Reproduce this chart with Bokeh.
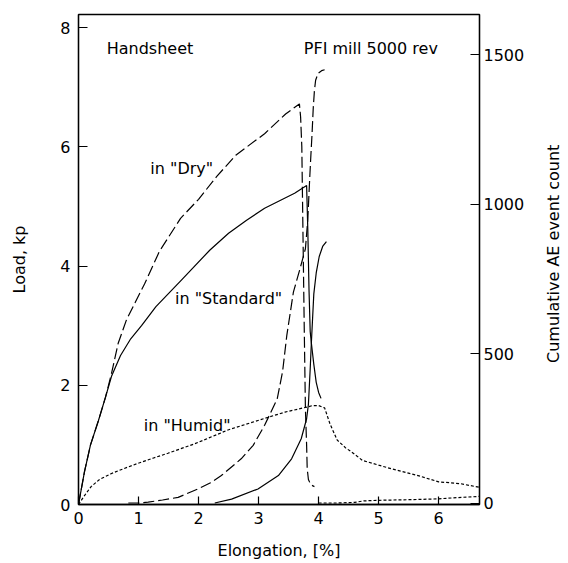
import math

from bokeh.plotting import figure
from bokeh.layouts import row
from bokeh.models import Range1d, LinearAxis, FixedTicker, Label
from bokeh.core.properties import value
from bokeh.embed import file_html
from bokeh.resources import INLINE

FONT = "DejaVu Sans"

# ---- tick values -------------------------------------------------------
elong_ticks = [0, 1, 2, 3, 4, 5, 6]
load_ticks = [0, 2, 4, 6, 8]
ae_ticks = [0, 500, 1000, 1500]

# ---- load curves (elongation %, load kp) -------------------------------
dry_load_x = [0, 0.1, 0.2, 0.33, 0.45, 0.55, 0.66, 0.8, 0.95, 1.1, 1.35, 1.7,
              2.0, 2.3, 2.62, 3.1, 3.45, 3.68, 3.70, 3.72, 3.74, 3.76, 3.78,
              3.80, 3.81, 3.83, 3.87, 3.93]
dry_load_y = [0, 0.55, 1.0, 1.4, 1.8, 2.2, 2.7, 3.1, 3.4, 3.7, 4.25, 4.8,
              5.12, 5.5, 5.86, 6.22, 6.55, 6.72, 6.5, 6.0, 4.5, 3.0, 1.6,
              1.0, 0.6, 0.42, 0.33, 0.3]

std_load_x = [0, 0.1, 0.2, 0.33, 0.45, 0.55, 0.7, 0.87, 1.05, 1.29, 1.71,
              2.19, 2.5, 2.8, 3.1, 3.4, 3.6, 3.8, 3.82, 3.84, 3.86, 3.88,
              3.92, 3.96, 4.0, 4.04]
std_load_y = [0, 0.55, 1.0, 1.4, 1.8, 2.15, 2.5, 2.78, 3.0, 3.32, 3.76,
              4.27, 4.55, 4.77, 4.97, 5.12, 5.22, 5.35, 4.6, 3.6, 2.9, 2.7,
              2.35, 2.05, 1.88, 1.78]

humid_load_x = [0, 0.1, 0.21, 0.35, 0.55, 0.75, 0.99, 1.25, 1.49, 1.94, 2.49,
                2.99, 3.44, 3.83, 3.9, 4.0, 4.1, 4.19, 4.31, 4.45, 4.55, 4.73,
                5.0, 5.21, 5.64, 6.0, 6.36, 6.67]
humid_load_y = [0, 0.15, 0.3, 0.42, 0.52, 0.6, 0.69, 0.78, 0.86, 1.02, 1.25,
                1.41, 1.55, 1.64, 1.66, 1.66, 1.62, 1.35, 1.08, 0.95, 0.88,
                0.74, 0.66, 0.6, 0.49, 0.38, 0.35, 0.29]

# ---- cumulative AE event counts (elongation %, count) ------------------
dry_ae_x = [0.83, 1.0, 1.16, 1.4, 1.66, 1.99, 2.2, 2.38, 2.71, 2.91, 3.1,
            3.31, 3.4, 3.47, 3.58, 3.69, 3.78, 3.82, 3.85, 3.87, 3.89, 3.91,
            3.93, 3.95, 3.99, 4.05, 4.1]
dry_ae_y = [0, 0, 3, 10, 19, 47, 68, 92, 148, 193, 260,
            348, 440, 561, 706, 784, 851, 950, 1080, 1160, 1233, 1320,
            1380, 1415, 1438, 1447, 1450]

std_ae_x = [2.27, 2.55, 2.99, 3.33, 3.55, 3.71, 3.8, 3.83, 3.86, 3.88, 3.9,
            3.92, 3.96, 4.01, 4.07, 4.13]
std_ae_y = [0, 13, 47, 92, 148, 215, 282, 330, 450, 540, 620,
            700, 770, 825, 860, 875]

humid_ae_x = [4.0, 4.3, 4.6, 4.75, 5.0, 5.5, 6.0, 6.3, 6.67]
humid_ae_y = [0, 0, 2, 7, 9, 11, 14, 18, 22]

LW = 1.2

p = figure(width=528, height=563, output_backend="svg", toolbar_location=None,
           x_range=Range1d(0, 6.68), y_range=Range1d(0, 8.22),
           min_border_left=78, min_border_right=49,
           min_border_top=14, min_border_bottom=59)

p.extra_y_ranges = {"ae": Range1d(-5, 1635)}

p.background_fill_color = "white"
p.border_fill_color = "white"
p.outline_line_color = "black"
p.outline_line_width = 1.3
p.xgrid.visible = False
p.ygrid.visible = False


def style_axis(ax, tick_len):
    ax.axis_line_color = "black"
    ax.axis_line_width = 1.3
    ax.major_tick_line_color = "black"
    ax.major_tick_line_width = 1.2
    ax.major_tick_in = tick_len
    ax.major_tick_out = 0
    ax.minor_tick_line_color = None
    ax.major_label_text_font = FONT
    ax.major_label_text_font_size = "16px"
    ax.major_label_text_color = "black"
    ax.axis_label_text_font = FONT
    ax.axis_label_text_font_size = "16px"
    ax.axis_label_text_font_style = "normal"
    ax.axis_label_text_color = "black"


xax = p.xaxis[0]
style_axis(xax, 8)
xax.ticker = FixedTicker(ticks=elong_ticks)
xax.major_label_standoff = 7
xax.axis_label = "Elongation, [%]"
xax.axis_label_standoff = 14

yax = p.yaxis[0]
style_axis(yax, 9)
yax.ticker = FixedTicker(ticks=load_ticks)
yax.major_label_standoff = 8
yax.axis_label = "Load, kp"
yax.axis_label_standoff = 28

ae_axis = LinearAxis(y_range_name="ae", ticker=FixedTicker(ticks=ae_ticks))
style_axis(ae_axis, 9)
ae_axis.major_label_standoff = 4
p.add_layout(ae_axis, "right")

# load curves
p.line(dry_load_x, dry_load_y, line_color="black", line_width=LW,
       line_dash="11 4")
p.line(std_load_x, std_load_y, line_color="black", line_width=LW)
p.line(humid_load_x, humid_load_y, line_color="black", line_width=LW,
       line_dash="3 2")

# AE curves on the right-hand scale
p.line(dry_ae_x, dry_ae_y, line_color="black", line_width=LW,
       line_dash="11 4", y_range_name="ae")
p.line(std_ae_x, std_ae_y, line_color="black", line_width=LW,
       y_range_name="ae")
p.line(humid_ae_x, humid_ae_y, line_color="black", line_width=LW,
       line_dash="3 2", y_range_name="ae")


def note(x, y, text, align="center", bg=None):
    lab = Label(x=x, y=y, text=text, text_font=FONT, text_font_size="16px",
                text_color="black", text_align=align, text_baseline="middle")
    if bg is not None:
        lab.background_fill_color = bg
    p.add_layout(lab)


note(0.47, 7.65, "Handsheet", align="left")
note(4.87, 7.65, "PFI mill 5000 rev")
note(1.72, 5.64, 'in "Dry"')
note(2.50, 3.45, 'in "Standard"', bg="white")
note(1.81, 1.33, 'in "Humid"')

# narrow strip on the right carrying the AE axis title, read bottom to top
side = figure(width=40, height=563, output_backend="svg",
              toolbar_location=None, x_range=Range1d(0, 40),
              y_range=Range1d(0, 563), min_border=0,
              x_axis_location=None, y_axis_location=None)
side.outline_line_color = None
side.background_fill_color = "white"
side.border_fill_color = "white"
side.grid.visible = False
side.text(x=[25], y=[288], text=["Cumulative AE event count"],
          angle=math.pi / 2, text_align="center", text_baseline="middle",
          text_font=value(FONT), text_font_size="16px", text_color="black")

layout = row(p, side, spacing=0)

open("out.html", "w").write(file_html(layout, INLINE))
